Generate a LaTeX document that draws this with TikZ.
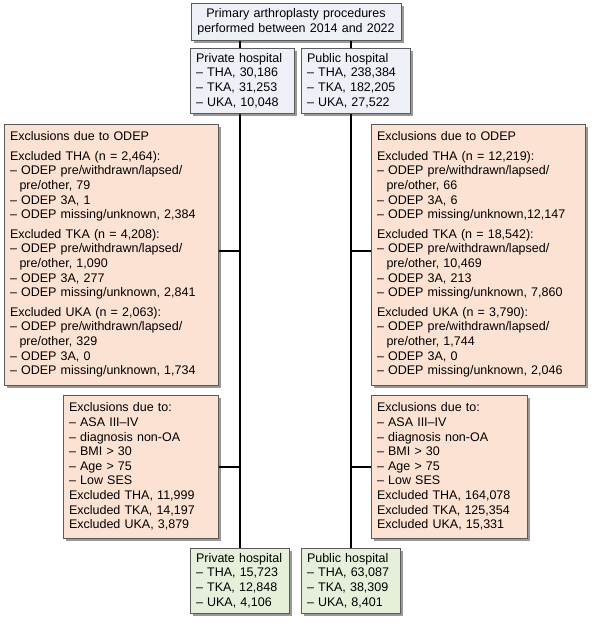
\documentclass[tikz,border=0pt]{standalone}
\usepackage{fontspec}
\setmainfont{Liberation Sans}
\usetikzlibrary{positioning,shadows,backgrounds}

\definecolor{boxblue}{HTML}{EDF1F7}
\definecolor{boxpeach}{HTML}{FCE2D2}
\definecolor{boxgreen}{HTML}{E5EFDA}
\definecolor{boxline}{HTML}{5A5A5A}

\newcommand{\subline}{\hspace*{9.5pt}}

\begin{document}
\begin{tikzpicture}
      [
        x=1pt, y=-1pt,
        FlowBox/.style={draw=boxline, line width=0.9pt, anchor=north west, align=left,
          inner xsep=6pt, inner ysep=0pt, outer sep=0pt,
          font=\fontsize{12.5}{14.6}\selectfont,
          drop shadow={shadow xshift=2.5pt, shadow yshift=-2.5pt, fill=black, opacity=0.4}},
        CountBox/.style={FlowBox, fill=boxblue, minimum height=65pt},
        ExclBox/.style={FlowBox, fill=boxpeach},
        EndBox/.style={FlowBox, fill=boxgreen, minimum height=65pt, text width=87pt},
        Trunk/.style={line width=2pt},
      ]
      \useasboundingbox (0,0) rectangle (597,624);

      \node [CountBox, align=center, text width=198pt, minimum height=37pt] (start) at (191,3)
        {Primary arthroplasty procedures\\performed between 2014 and 2022};

      \node [CountBox, text width=92pt] (priv) at (190,48)
        {Private hospital\\-- THA, 30,186\\-- TKA, 31,253\\-- UKA, 10,048};
      \node [CountBox, text width=97pt] (pub) at (301,48)
        {Public hospital\\-- THA, 238,384\\-- TKA, 182,205\\-- UKA, 27,522};

      % ODEP exclusions
      \node [ExclBox, text width=202pt, minimum height=261pt] (odepL) at (4,124)
        {Exclusions due to ODEP\\[5pt]
         Excluded THA (n = 2,464):\\
         -- ODEP pre/withdrawn/lapsed/\\\subline pre/other, 79\\
         -- ODEP 3A, 1\\
         -- ODEP missing/unknown, 2,384\\[5pt]
         Excluded TKA (n = 4,208):\\
         -- ODEP pre/withdrawn/lapsed/\\\subline pre/other, 1,090\\
         -- ODEP 3A, 277\\
         -- ODEP missing/unknown, 2,841\\[5pt]
         Excluded UKA (n = 2,063):\\
         -- ODEP pre/withdrawn/lapsed/\\\subline pre/other, 329\\
         -- ODEP 3A, 0\\
         -- ODEP missing/unknown, 1,734};
      \node [ExclBox, text width=202pt, minimum height=261pt] (odepR) at (371,124)
        {Exclusions due to ODEP\\[5pt]
         Excluded THA (n = 12,219):\\
         -- ODEP pre/withdrawn/lapsed/\\\subline pre/other, 66\\
         -- ODEP 3A, 6\\
         -- ODEP missing/unknown,12,147\\[5pt]
         Excluded TKA (n = 18,542):\\
         -- ODEP pre/withdrawn/lapsed/\\\subline pre/other, 10,469\\
         -- ODEP 3A, 213\\
         -- ODEP missing/unknown, 7,860\\[5pt]
         Excluded UKA (n = 3,790):\\
         -- ODEP pre/withdrawn/lapsed/\\\subline pre/other, 1,744\\
         -- ODEP 3A, 0\\
         -- ODEP missing/unknown, 2,046};

      % patient factor exclusions
      \node [ExclBox, text width=143pt, minimum height=143pt] (asaL) at (63,395)
        {Exclusions due to:\\-- ASA III--IV\\-- diagnosis non-OA\\-- BMI > 30\\-- Age > 75\\-- Low SES\\
         Excluded THA, 11,999\\Excluded TKA, 14,197\\Excluded UKA, 3,879};
      \node [ExclBox, text width=144pt, minimum height=143pt] (asaR) at (371,395)
        {Exclusions due to:\\-- ASA III--IV\\-- diagnosis non-OA\\-- BMI > 30\\-- Age > 75\\-- Low SES\\
         Excluded THA, 164,078\\Excluded TKA, 125,354\\Excluded UKA, 15,331};

      \node [EndBox] (privEnd) at (190,548)
        {Private hospital\\-- THA, 15,723\\-- TKA, 12,848\\-- UKA, 4,106};
      \node [EndBox] (pubEnd) at (301,548)
        {Public hospital\\-- THA, 63,087\\-- TKA, 38,309\\-- UKA, 8,401};

      \begin{scope}[on background layer]
        \draw [Trunk] (start.south -| privEnd.north) -- (privEnd.north);
        \draw [Trunk] (start.south -| pubEnd.north) -- (pubEnd.north);
        \draw [Trunk] ([yshift=4pt]odepL.east) -- ([yshift=4pt]odepL.east -| privEnd.north);
        \draw [Trunk] ([yshift=4pt]odepR.west) -- ([yshift=4pt]odepR.west -| pubEnd.north);
        \draw [Trunk] (asaL.east) -- (asaL.east -| privEnd.north);
        \draw [Trunk] (asaR.west) -- (asaR.west -| pubEnd.north);
      \end{scope}
    \end{tikzpicture}
\end{document}
